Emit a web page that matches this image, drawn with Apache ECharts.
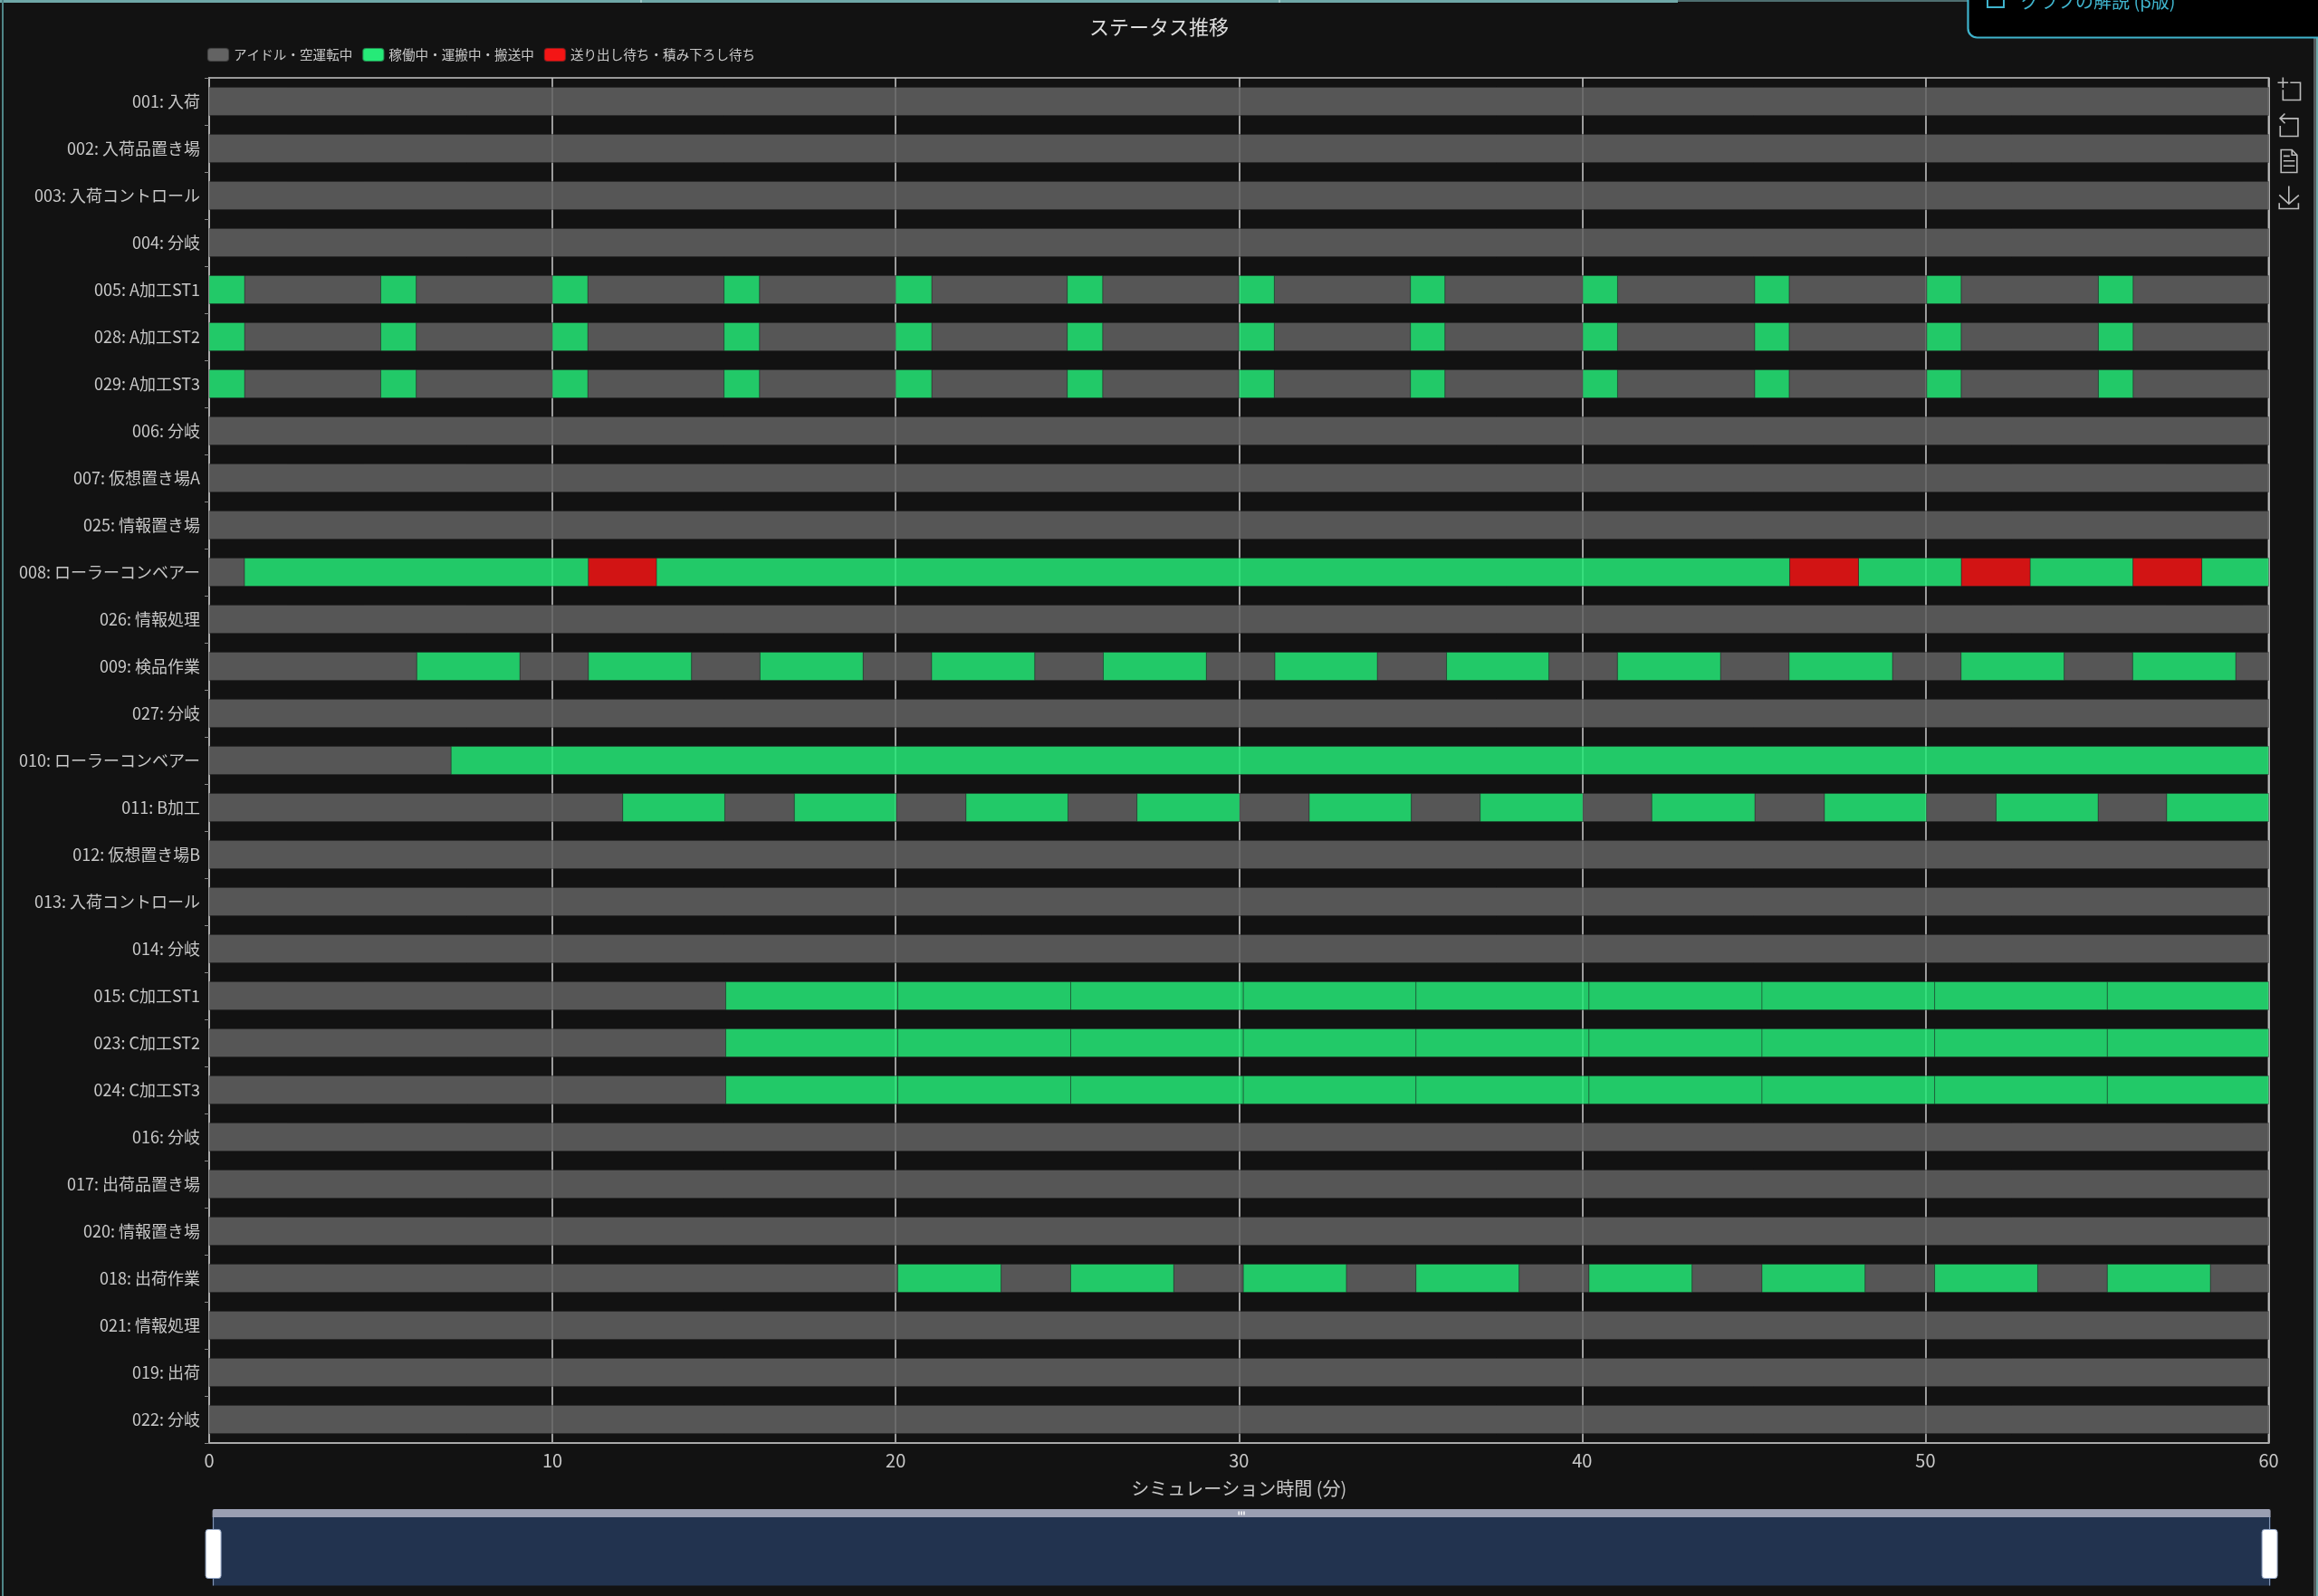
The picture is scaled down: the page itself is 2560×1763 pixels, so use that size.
<!DOCTYPE html>
<html><head><meta charset="utf-8">
<style>html,body{margin:0;padding:0;background:#121212;overflow:hidden}#c{width:2560px;height:1763px}</style>
<script src="https://cdn.jsdelivr.net/npm/echarts@6/dist/echarts.min.js"></script>
</head><body><div id="c"></div>
<script>
const title = 'ステータス推移';
const axisName = 'シミュレーション時間 (分)';
const statusNames = ['アイドル・空運転中', '稼働中・運搬中・搬送中', '送り出し待ち・積み下ろし待ち'];
const statusColors = ['#636363', '#26ea78', '#f41515'];
const categories = ['001: 入荷','002: 入荷品置き場','003: 入荷コントロール','004: 分岐','005: A加工ST1','028: A加工ST2','029: A加工ST3','006: 分岐','007: 仮想置き場A','025: 情報置き場','008: ローラーコンベアー','026: 情報処理','009: 検品作業','027: 分岐','010: ローラーコンベアー','011: B加工','012: 仮想置き場B','013: 入荷コントロール','014: 分岐','015: C加工ST1','023: C加工ST2','024: C加工ST3','016: 分岐','017: 出荷品置き場','020: 情報置き場','018: 出荷作業','021: 情報処理','019: 出荷','022: 分岐'];
const xMax = 60;
const xTicks = 10;

// Each row: change points as [start, status] pairs; a segment ends where the next begins.
const idleRow = [[0,0]];
const rowA = [[0,1],[1.03,0],[5,1],[6.03,0],[10,1],[11.03,0],[15,1],[16.03,0],[20,1],[21.05,0],[25,1],[26.03,0],[30,1],[31.03,0],[35,1],[36,0],[40.02,1],[41.03,0],[45.03,1],[46.03,0],[50.04,1],[51.04,0],[55.04,1],[56.05,0]];
const row008 = [[0,0],[1.03,1],[11.05,2],[13.03,1],[46.05,2],[48.05,1],[51.05,2],[53.05,1],[56.05,2],[58.05,1]];
const row009 = [[0,0],[6.05,1],[9.05,0],[11.05,1],[14.05,0],[16.05,1],[19.05,0],[21.05,1],[24.05,0],[26.05,1],[29.05,0],[31.05,1],[34.03,0],[36.05,1],[39.03,0],[41.03,1],[44.03,0],[46.03,1],[49.04,0],[51.04,1],[54.04,0],[56.04,1],[59.04,0]];
const row010 = [[0,0],[7.05,1]];
const row011 = [[0,0],[12.05,1],[15.02,0],[17.05,1],[20.02,0],[22.05,1],[25.02,0],[27.03,1],[30.02,0],[32.05,1],[35.02,0],[37.03,1],[40.02,0],[42.03,1],[45.03,0],[47.06,1],[50.03,0],[52.06,1],[55.03,0],[57.03,1]];
const rowC = [[0,0],[15.05,1],[20.06,1],[25.1,1],[30.13,1],[35.16,1],[40.2,1],[45.24,1],[50.27,1],[55.3,1]];
const row018 = [[0,0],[20.06,1],[23.07,0],[25.1,1],[28.1,0],[30.13,1],[33.13,0],[35.16,1],[38.16,0],[40.2,1],[43.2,0],[45.24,1],[48.24,0],[50.27,1],[53.27,0],[55.3,1],[58.3,0]];
const rows = [idleRow,idleRow,idleRow,idleRow,rowA,rowA,rowA,idleRow,idleRow,idleRow,row008,idleRow,row009,idleRow,row010,row011,idleRow,idleRow,idleRow,rowC,rowC,rowC,idleRow,idleRow,idleRow,row018,idleRow,idleRow,idleRow];

const segs = [[],[],[]];
rows.forEach((r, i) => r.forEach((p, j) => {
  const end = j + 1 < r.length ? r[j+1][0] : xMax;
  segs[p[1]].push([i, p[0], end]);
}));

function renderItem(params, api) {
  const y = api.value(0), a = api.coord([api.value(1), y]), b = api.coord([api.value(2), y]);
  const h = api.size([0, 1])[1] * 0.6;
  const r = echarts.graphic.clipRectByRect({x:a[0], y:a[1]-h/2, width:b[0]-a[0], height:h},
    {x:params.coordSys.x, y:params.coordSys.y, width:params.coordSys.width, height:params.coordSys.height});
  return r && {type:'rect', shape:r, style:api.style()};
}

const labelColor = '#c8c8c8';
const font = '"Noto Sans CJK JP","Noto Sans",sans-serif';
const handlePath = 'path://M8.5,0V8M8.5,62V76M3,8h11a3,3,0,0,1,3,3v48a3,3,0,0,1-3,3h-11a3,3,0,0,1-3-3v-48a3,3,0,0,1,3-3Z';
const chart = echarts.init(document.getElementById('c'), null, {renderer:'canvas', width:2560, height:1763});
chart.setOption({
  animation:false,
  backgroundColor:'#121212',
  textStyle:{fontFamily:font},
  title:{text:title, left:'center', top:14, textStyle:{color:'#dedede', fontSize:22, fontWeight:'normal', fontFamily:font}},
  legend:{left:228, top:52, itemWidth:24, itemHeight:15, itemGap:10, padding:0, icon:'roundRect', data:statusNames,
    itemStyle:{opacity:1}, textStyle:{color:labelColor, fontSize:14.6, fontFamily:font}},
  toolbox:{orient:'vertical', right:2, top:68, itemSize:25, itemGap:10,
    iconStyle:{borderColor:'#bbbbbb', borderWidth:1.6, color:'none'},
    feature:{dataZoom:{yAxisIndex:'none'}, dataView:{readOnly:true}, saveAsImage:{}}},
  grid:{left:231, right:54.5, top:86, bottom:169, show:true, borderColor:'#999999', borderWidth:2, backgroundColor:'transparent'},
  xAxis:{type:'value', min:0, max:xMax, interval:xTicks, name:axisName, nameLocation:'middle', nameGap:40,
    nameTextStyle:{color:labelColor, fontSize:20, fontFamily:font},
    axisLine:{show:true, lineStyle:{color:'#aaaaaa', width:2}},
    axisTick:{show:false},
    axisLabel:{color:labelColor, fontSize:20, margin:9, fontFamily:font},
    splitLine:{show:true, lineStyle:{color:'#c0c0c0', width:1.6}}},
  yAxis:{type:'category', data:categories, inverse:true,
    axisLine:{show:true, lineStyle:{color:'#aaaaaa', width:2}},
    axisTick:{show:true, length:5, lineStyle:{color:'#888888'}},
    axisLabel:{color:labelColor, fontSize:18, margin:10, fontFamily:font},
    splitLine:{show:false}},
  dataZoom:[{type:'slider', xAxisIndex:0, left:231, right:56, top:1667, height:76, showDetail:false, showDataShadow:false,
    brushSelect:true, backgroundColor:'transparent', fillerColor:'#22334f', borderColor:'transparent',
    handleIcon:handlePath, handleSize:'100%', handleStyle:{color:'#ffffff', borderColor:'#8da0c0', borderWidth:1},
    moveHandleSize:9, moveHandleStyle:{color:'#9a9fb2', opacity:1}, start:0, end:100}],
  series:statusNames.map((n, k) => ({name:n, type:'custom', renderItem, encode:{x:[1,2], y:0}, data:segs[k],
    itemStyle:{color:statusColors[k], opacity:0.85, borderColor:'rgba(30,30,30,0.45)', borderWidth:1}})),
  graphic:[
    {type:'rect', silent:true, z:100, shape:{x:2173.5, y:-20, width:420, height:61.5, r:10}, style:{fill:'#000', stroke:'#3fb3cc', lineWidth:2.2}},
    {type:'text', silent:true, z:101, style:{x:2232, y:-9, text:'グラフの解説 (β版)', fill:'#3fb3cc', fontSize:20, fontFamily:font}},
    {type:'rect', silent:true, z:101, shape:{x:2195, y:-6, width:18, height:14}, style:{fill:'none', stroke:'#3fb3cc', lineWidth:2}},
    {type:'line', silent:true, z:99, shape:{x1:0, y1:1.5, x2:1853, y2:1.5}, style:{stroke:'#6fa8a8', lineWidth:3}},
    {type:'line', silent:true, z:99, shape:{x1:1853, y1:1, x2:2173, y2:1}, style:{stroke:'#4e6e70', lineWidth:2}},
    {type:'line', silent:true, z:99, shape:{x1:708, y1:0, x2:708, y2:3}, style:{stroke:'#cfe8e8', lineWidth:1}},
    {type:'line', silent:true, z:99, shape:{x1:1413, y1:0, x2:1413, y2:3}, style:{stroke:'#cfe8e8', lineWidth:1}},
    {type:'line', silent:true, z:99, shape:{x1:3, y1:0, x2:3, y2:1763}, style:{stroke:'#4f8587', lineWidth:2}},
    {type:'rect', silent:true, z:99, shape:{x:2555, y:42, width:3, height:1721}, style:{fill:'#555a5c'}},
    {type:'rect', silent:true, z:99, shape:{x:2558, y:42, width:2, height:1721}, style:{fill:'#6fa8a8'}}
  ]
});
</script></body></html>
